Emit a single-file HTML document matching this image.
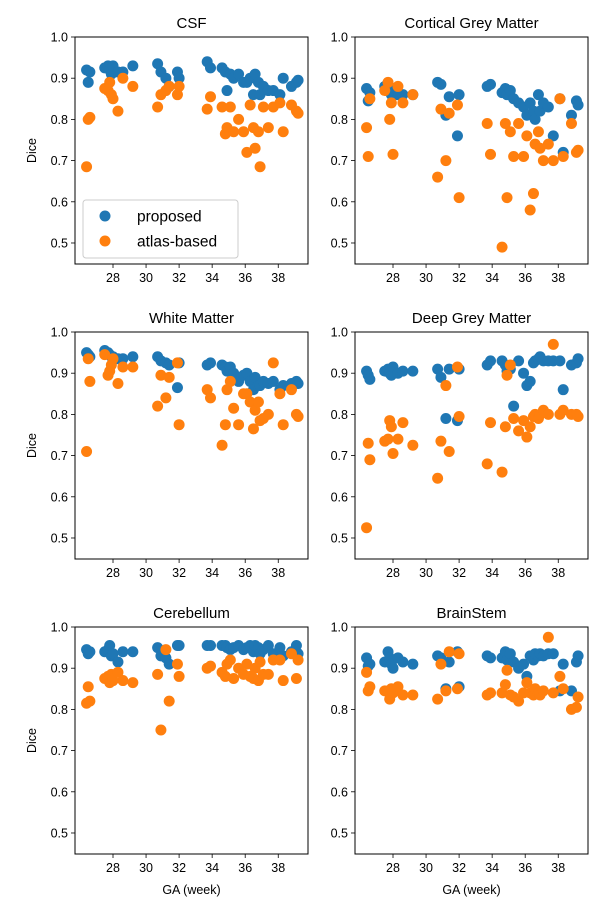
<!DOCTYPE html>
<html><head><meta charset="utf-8"><style>
body{margin:0;background:#fff;}
svg{display:block;font-family:"Liberation Sans","DejaVu Sans",sans-serif;}
</style></head><body>
<svg id="chart" width="600" height="900" viewBox="0 0 600 900" xmlns="http://www.w3.org/2000/svg"></svg>
<script>
const ga = [26.4,26.5,26.6,27.5,27.7,27.8,27.9,28.0,28.3,28.6,29.2,30.7,30.9,31.2,31.4,31.9,32.0,33.7,33.9,34.6,34.8,34.9,35.1,35.3,35.6,35.9,36.1,36.3,36.5,36.6,36.8,36.9,37.1,37.4,37.7,38.1,38.3,38.8,39.1,39.2];
const titles = ["CSF","Cortical Grey Matter","White Matter","Deep Grey Matter","Cerebellum","BrainStem"];
const csfProposed = [0.92,0.89,0.915,0.925,0.93,0.92,0.91,0.93,0.915,0.915,0.93,0.935,0.915,0.90,0.88,0.915,0.90,0.94,0.925,0.925,0.915,0.87,0.91,0.90,0.91,0.89,0.89,0.90,0.86,0.91,0.89,0.86,0.88,0.87,0.87,0.86,0.90,0.88,0.89,0.895];
const csfAtlas = [0.685,0.80,0.805,0.875,0.87,0.89,0.86,0.85,0.82,0.90,0.88,0.83,0.86,0.87,0.88,0.86,0.88,0.825,0.855,0.83,0.765,0.78,0.83,0.77,0.80,0.77,0.72,0.835,0.78,0.73,0.77,0.685,0.83,0.78,0.83,0.84,0.77,0.835,0.82,0.815];
const cgmProposed = [0.875,0.845,0.865,0.88,0.885,0.87,0.86,0.86,0.86,0.86,0.86,0.89,0.885,0.81,0.855,0.76,0.86,0.88,0.885,0.865,0.875,0.86,0.87,0.85,0.84,0.83,0.81,0.84,0.82,0.80,0.86,0.82,0.84,0.83,0.76,0.85,0.72,0.81,0.845,0.835];
const cgmAtlas = [0.78,0.71,0.85,0.87,0.89,0.80,0.84,0.715,0.88,0.84,0.86,0.66,0.825,0.70,0.815,0.835,0.61,0.79,0.715,0.49,0.79,0.61,0.77,0.71,0.79,0.71,0.76,0.58,0.62,0.74,0.77,0.73,0.70,0.74,0.70,0.85,0.71,0.79,0.72,0.725];
const wmProposed = [0.95,0.945,0.94,0.955,0.95,0.945,0.94,0.94,0.935,0.935,0.94,0.94,0.93,0.925,0.92,0.865,0.925,0.92,0.925,0.92,0.915,0.905,0.915,0.90,0.88,0.895,0.90,0.88,0.86,0.89,0.87,0.87,0.88,0.875,0.88,0.86,0.87,0.875,0.88,0.875];
const wmAtlas = [0.71,0.935,0.88,0.945,0.895,0.905,0.92,0.935,0.875,0.915,0.915,0.82,0.895,0.84,0.89,0.925,0.775,0.86,0.84,0.725,0.775,0.86,0.88,0.815,0.775,0.85,0.85,0.83,0.765,0.81,0.83,0.785,0.79,0.80,0.925,0.85,0.775,0.86,0.80,0.795];
const dgmProposed = [0.905,0.895,0.885,0.905,0.91,0.90,0.895,0.915,0.90,0.905,0.905,0.91,0.89,0.79,0.91,0.785,0.91,0.92,0.93,0.93,0.92,0.905,0.91,0.82,0.93,0.90,0.87,0.88,0.925,0.93,0.935,0.94,0.93,0.93,0.93,0.93,0.86,0.92,0.925,0.935];
const dgmAtlas = [0.525,0.73,0.69,0.735,0.74,0.785,0.77,0.705,0.74,0.78,0.725,0.645,0.735,0.87,0.71,0.915,0.795,0.68,0.78,0.66,0.77,0.895,0.92,0.79,0.76,0.785,0.745,0.77,0.795,0.80,0.79,0.80,0.81,0.80,0.97,0.80,0.81,0.80,0.80,0.795];
const cbProposed = [0.945,0.935,0.94,0.94,0.945,0.955,0.93,0.935,0.915,0.94,0.94,0.95,0.93,0.925,0.91,0.955,0.955,0.955,0.955,0.955,0.955,0.95,0.945,0.95,0.955,0.945,0.95,0.955,0.94,0.955,0.95,0.935,0.945,0.955,0.935,0.95,0.93,0.94,0.955,0.935];
const cbAtlas = [0.815,0.855,0.82,0.875,0.88,0.865,0.885,0.87,0.89,0.87,0.865,0.885,0.75,0.945,0.82,0.91,0.88,0.90,0.905,0.89,0.88,0.91,0.92,0.875,0.90,0.885,0.91,0.88,0.875,0.90,0.87,0.915,0.885,0.885,0.92,0.92,0.87,0.935,0.875,0.92];
const bsProposed = [0.925,0.905,0.91,0.915,0.94,0.925,0.91,0.90,0.925,0.915,0.91,0.93,0.925,0.85,0.915,0.94,0.855,0.93,0.925,0.925,0.94,0.92,0.935,0.915,0.90,0.91,0.88,0.93,0.92,0.935,0.93,0.935,0.93,0.935,0.935,0.845,0.91,0.845,0.915,0.93];
const bsAtlas = [0.89,0.845,0.855,0.845,0.845,0.825,0.85,0.84,0.855,0.835,0.835,0.825,0.91,0.845,0.94,0.85,0.935,0.835,0.84,0.84,0.86,0.895,0.835,0.83,0.82,0.84,0.865,0.84,0.835,0.85,0.84,0.835,0.845,0.975,0.84,0.88,0.85,0.80,0.805,0.83];
const proposedSeries = [csfProposed,cgmProposed,wmProposed,dgmProposed,cbProposed,bsProposed];
const atlasSeries = [csfAtlas,cgmAtlas,wmAtlas,dgmAtlas,cbAtlas,bsAtlas];
const xTicks = [28,30,32,34,36,38];
const yTicks = [0.5,0.6,0.7,0.8,0.9,1.0];

const NS="http://www.w3.org/2000/svg";
const svg=document.getElementById('chart');
function mk(tag,attrs,parent){const e=document.createElementNS(NS,tag);for(const k in attrs)e.setAttribute(k,attrs[k]);(parent||svg).appendChild(e);return e;}
const colX=[75,355], rowY=[37,332,627], W=233, H=227;
const BLUE="#1f77b4", ORANGE="#ff7f0e";
for(let p=0;p<6;p++){
  const x0=colX[p%2], y0=rowY[Math.floor(p/2)];
  const g=mk('g',{});
  
  
  const sx=w=>x0+(w-25.7)/(39.8-25.7)*W;
  const sy=v=>y0+(1.0-v)/(1.0-0.449)*H;
  const t=mk('text',{x:x0+W/2,y:y0-9,'text-anchor':'middle','font-size':15},g);t.textContent=titles[p];
  
  
  for(const v of yTicks){const y=sy(v);
    mk('line',{x1:x0-4,x2:x0,y1:y,y2:y,stroke:'#000','stroke-width':0.8},g);
    const tl=mk('text',{x:x0-7,y:y+4.5,'text-anchor':'end','font-size':12.5},g);tl.textContent=v.toFixed(1);
    
    }
  for(const w of xTicks){const x=sx(w);
    mk('line',{x1:x,x2:x,y1:y0+H,y2:y0+H+4,stroke:'#000','stroke-width':0.8},g);
    const tl=mk('text',{x:x,y:y0+H+18,'text-anchor':'middle','font-size':12.5},g);tl.textContent=w;
    
    }
  const series=[[proposedSeries[p],BLUE,'proposed-point'],[atlasSeries[p],ORANGE,'atlas-point']];
  for(const [vals,col,nm] of series){
    for(let i=0;i<vals.length;i++){
      const c=mk('circle',{cx:sx(ga[i]),cy:sy(vals[i]),r:5.5,fill:col},g);
      
      
    }
  }
  mk('rect',{x:x0,y:y0,width:W,height:H,fill:'none',stroke:'#000','stroke-width':1},g);
  if(p%2===0){const yl=mk('text',{x:0,y:0,'text-anchor':'middle','font-size':12.5,transform:`translate(36,${y0+H/2}) rotate(-90)`},g);yl.textContent='Dice';
    
    }
  if(p>=4){const xl=mk('text',{x:x0+W/2,y:y0+H+40,'text-anchor':'middle','font-size':12.5},g);xl.textContent='GA (week)';
    
    }
}
// legend
const lg=mk('g',{});


mk('rect',{x:83,y:200,width:155,height:58,rx:3,fill:'#fff','fill-opacity':0.8,stroke:'#ccc'},lg);
const le=[['proposed',BLUE,216],['atlas-based',ORANGE,241]];
for(const [txt,col,y] of le){
  const c=mk('circle',{cx:105,cy:y,r:5.5,fill:col},lg);
  
  
  const t=mk('text',{x:137,y:y+5.5,'font-size':15.5},lg);t.textContent=txt;
  
  
}
</script>
</body></html>
